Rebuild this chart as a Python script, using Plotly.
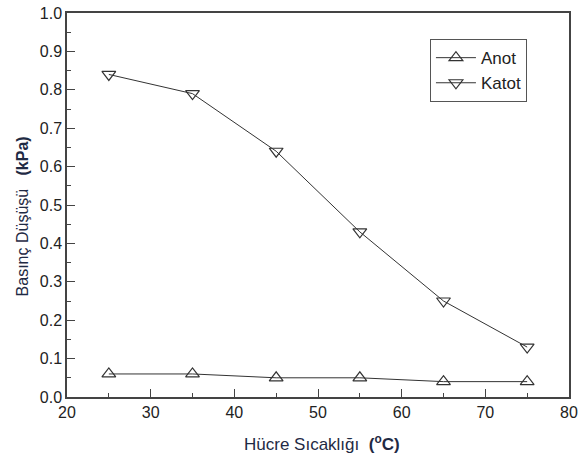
import plotly.graph_objects as go

temps = [25, 35, 45, 55, 65, 75]
anot = [0.06, 0.06, 0.05, 0.05, 0.04, 0.04]
katot = [0.84, 0.79, 0.64, 0.43, 0.25, 0.13]

x_title = "Hücre Sıcaklığı  <b>(<sup>o</sup>C)</b>"
y_title = "Basınç Düşüşü   <b>(kPa)</b>"

fig = go.Figure()
fig.add_trace(go.Scatter(
    x=temps, y=anot, name="Anot", mode="lines+markers",
    line=dict(color="#333333", width=1),
    marker=dict(symbol="triangle-up-open", size=12, color="#333333", line=dict(width=1.2)),
))
fig.add_trace(go.Scatter(
    x=temps, y=katot, name="Katot", mode="lines+markers",
    line=dict(color="#333333", width=1),
    marker=dict(symbol="triangle-down-open", size=12, color="#333333", line=dict(width=1.2)),
))

axis_common = dict(
    showline=True, linecolor="#444444", linewidth=1.5, mirror=True,
    ticks="inside", ticklen=8, tickwidth=1.2, tickcolor="#444444",
    showgrid=False, zeroline=False, automargin=False,
    tickfont=dict(family="Arial, Liberation Sans", size=16, color="#222222"),
)

fig.update_layout(
    width=579, height=460,
    margin=dict(l=67, r=10, t=13, b=63),
    paper_bgcolor="white", plot_bgcolor="white",
    font=dict(family="Arial, Liberation Sans", color="#222222"),
    xaxis=dict(
        range=[20, 80], dtick=10, tick0=20,
        minor=dict(ticks="inside", ticklen=4, dtick=5, tick0=20, tickcolor="#444444"),
        **axis_common,
    ),
    yaxis=dict(
        range=[0, 1.0], dtick=0.1, tick0=0, tickformat=".1f",
        minor=dict(ticks="inside", ticklen=4, dtick=0.05, tick0=0, tickcolor="#444444"),
        **axis_common,
    ),
    legend=dict(
        x=0.723, y=0.932, xanchor="left", yanchor="top",
        bordercolor="#555555", borderwidth=1, bgcolor="white",
        font=dict(size=17, color="#222222"),
        tracegroupgap=0, itemwidth=40,
    ),
    annotations=[
        dict(text=x_title, xref="paper", yref="paper", x=0.508, y=-0.12,
             xanchor="center", yanchor="middle", showarrow=False,
             font=dict(size=17, color="#1f2a44")),
        dict(text=y_title, xref="paper", yref="paper", x=-0.0886, y=0.469,
             xanchor="center", yanchor="middle", showarrow=False, textangle=-90,
             font=dict(size=16, color="#1f2a44")),
    ],
)

fig.write_html(
    "out.html",
    config={"displayModeBar": False},
    post_script="document.body.style.margin='0';document.body.style.overflow='hidden';",
)
